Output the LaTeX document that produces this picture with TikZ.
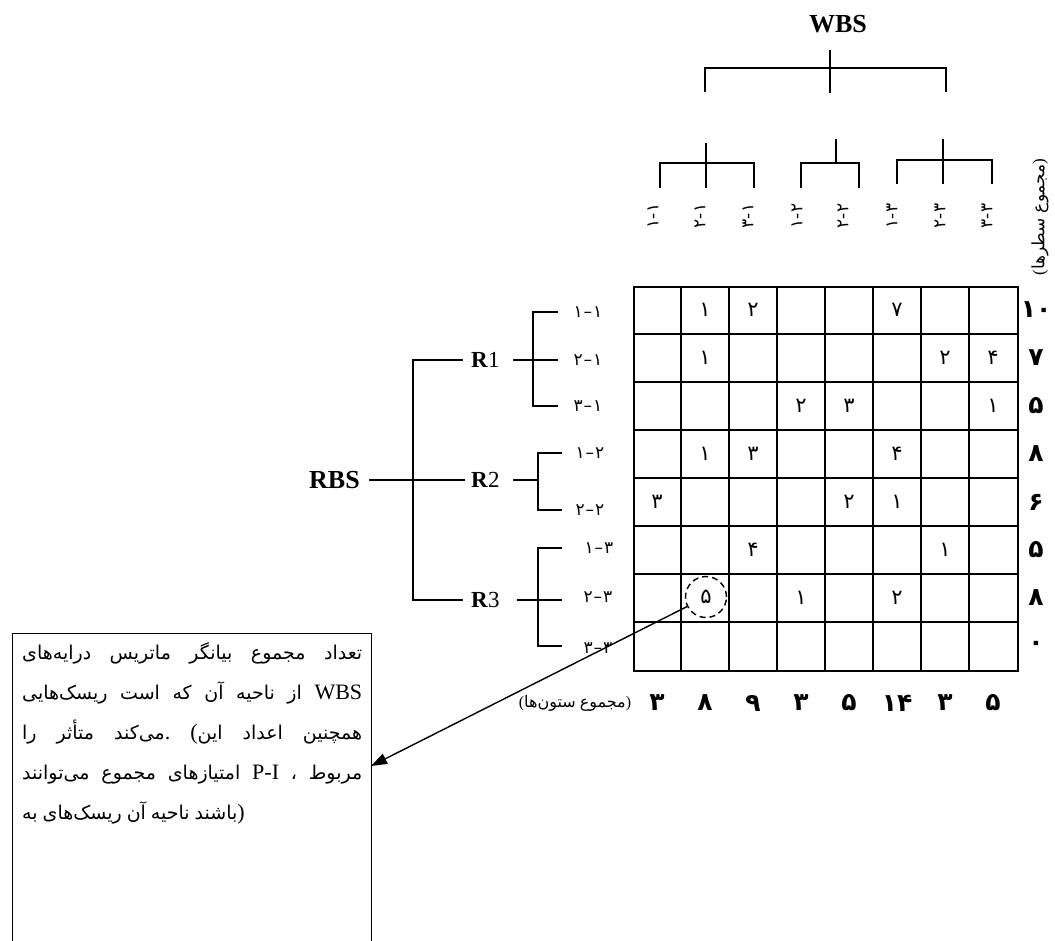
\documentclass[tikz,border=0pt]{standalone}
\usepackage{fontspec}
\setmainfont{Liberation Serif}
\newfontfamily\fa[Script=Arabic]{DejaVu Sans}
\TeXXeTstate=1
\usetikzlibrary{arrows.meta}
\newcommand\pd[2]{\hbox{#1}\hbox{-}\hbox{#2}}
\newcommand\pr[2]{\hbox{#1}\kern1pt\hbox{–}\kern1pt\hbox{#2}}
\newcommand\lat[1]{{\rmfamily\fontsize{22}{22}\selectfont #1}}
\newcommand\wrd[1]{\hbox{#1}}
\begin{document}
\begin{tikzpicture}[x=1pt,y=-1pt,
  tree/.style={line width=1.8pt},
  gridline/.style={line width=1.8pt},
  cellnum/.style={font=\fa\fontsize{21}{21}\selectfont, inner sep=0pt},
  sumnum/.style={font=\fa\bfseries\fontsize{25}{25}\selectfont, inner sep=0pt},
  lab/.style={font=\fa\fontsize{17}{17}\selectfont, inner sep=0pt},
  head/.style={font=\bfseries\fontsize{26}{26}\selectfont, inner sep=0pt},
  rnode/.style={font=\fontsize{23}{23}\selectfont, inner sep=0pt, anchor=west},
  boxline/.style={font=\fa\fontsize{19}{19}\selectfont, inner sep=0pt, anchor=base west},
]
\useasboundingbox (0,0) rectangle (1055,941);
\clip (0,0) rectangle (1055,941);

% ---------- WBS tree ----------
\node[head] (wbs) at (838,24) {WBS};
\draw[tree] (705,92) -- (705,68) -- (946,68) -- (946,92);
\draw[tree] (830,50) -- (830,93);
\draw[tree] (660,188) -- (660,163) -- (754,163) -- (754,188);
\draw[tree] (706,143) -- (706,188);
\draw[tree] (801,188) -- (801,163) -- (859,163) -- (859,188);
\draw[tree] (836,139) -- (836,163);
\draw[tree] (897,184) -- (897,160) -- (992,160) -- (992,184);
\draw[tree] (943,139) -- (943,184);

% column labels
\node[lab,rotate=90] (cl1) at (653,216) {\pd{۱}{۱}};
\node[lab,rotate=90] (cl2) at (700,216) {\pd{۲}{۱}};
\node[lab,rotate=90] (cl3) at (748,216) {\pd{۳}{۱}};
\node[lab,rotate=90] (cl4) at (797,216) {\pd{۱}{۲}};
\node[lab,rotate=90] (cl5) at (843,216) {\pd{۲}{۲}};
\node[lab,rotate=90] (cl6) at (892,216) {\pd{۱}{۳}};
\node[lab,rotate=90] (cl7) at (940,216) {\pd{۲}{۳}};
\node[lab,rotate=90] (cl8) at (987,216) {\pd{۳}{۳}};
\node[lab,rotate=90] (rowsumlab) at (1040,217)
  {\wrd{\lat{\fontsize{17}{17}\selectfont(}}\wrd{سطرها}\hskip 5pt\wrd{مجموع}\wrd{\lat{\fontsize{17}{17}\selectfont)}}};

% ---------- matrix ----------
\node[draw, gridline, anchor=north west, minimum width=384pt, minimum height=384pt, inner sep=0pt] (mat) at (633,286) {};
\foreach \i in {1,...,7} {
  \draw[gridline] (633+48*\i,286) -- (633+48*\i,670);
  \draw[gridline] (633,286+48*\i) -- (1017,286+48*\i);
}
\foreach \r/\c/\v in {1/2/۱,1/3/۲,1/6/۷,
                      2/2/۱,2/7/۲,2/8/۴,
                      3/4/۲,3/5/۳,3/8/۱,
                      4/2/۱,4/3/۳,4/6/۴,
                      5/1/۳,5/5/۲,5/6/۱,
                      6/3/۴,6/7/۱,
                      7/4/۱,7/6/۲}
  \node[cellnum] (c\r\c) at (633+48*\c-24,286+48*\r-24) {\v};
\node[cellnum, circle, draw, dashed, dash pattern=on 6pt off 4pt, line width=1.4pt, minimum size=41pt] (circ) at (706,597) {۵};

% row sums
\foreach \r/\v in {1/۱۰,2/۷,3/۵,4/۸,5/۶,6/۵,7/۸,8/۰}
  \node[sumnum] (rs\r) at (1036,286+48*\r-24) {\v};
% column sums
\foreach \c/\v in {1/۳,2/۸,3/۹,4/۳,5/۵,6/۱۴,7/۳,8/۵}
  \node[sumnum] (cs\c) at (633+48*\c-24,703) {\v};
\node[font=\fa\fontsize{16}{16}\selectfont, inner sep=0pt] (colsumlab) at (575,703)
  {\wrd{\lat{\fontsize{16}{16}\selectfont(}}\wrd{ستون^^^^200cها}\hskip 4pt\wrd{مجموع}\wrd{\lat{\fontsize{16}{16}\selectfont)}}};

% ---------- RBS tree ----------
\node[head, anchor=east] (rbs) at (360,480) {RBS};
\draw[tree] (rbs.east) ++(9,0) -- (465,480);
\draw[tree] (463,360) -- (413,360) -- (413,600) -- (463,600);
\node[rnode] (r1) at (471,360) {\textbf{R}1};
\node[rnode] (r2) at (471,480) {\textbf{R}2};
\node[rnode] (r3) at (471,600) {\textbf{R}3};
\draw[tree] (513,360) -- (558,360);
\draw[tree] (558,312) -- (533,312) -- (533,406) -- (558,406);
\draw[tree] (513,480) -- (538,480);
\draw[tree] (562,453) -- (538,453) -- (538,510) -- (562,510);
\draw[tree] (517,600) -- (562,600);
\draw[tree] (562,548) -- (538,548) -- (538,646) -- (562,646);

% row labels
\node[lab] (rl1) at (588,312) {\pr{۱}{۱}};
\node[lab] (rl2) at (588,360) {\pr{۲}{۱}};
\node[lab] (rl3) at (588,406) {\pr{۳}{۱}};
\node[lab] (rl4) at (590,453) {\pr{۱}{۲}};
\node[lab] (rl5) at (590,510) {\pr{۲}{۲}};
\node[lab] (rl6) at (599,548) {\pr{۱}{۳}};
\node[lab] (rl7) at (598,597) {\pr{۲}{۳}};
\node[lab] (rl8) at (598,648) {\pr{۳}{۳}};

% ---------- text box (words laid out left to right, as printed) ----------
\node[draw, line width=1.3pt, anchor=north west, minimum width=359pt, minimum height=340pt, inner sep=0pt] (box) at (12,633) {};
\node[boxline] (t1) at (22,659) {\hbox to 340pt{\wrd{درایه^^^^200cهای}\hfil\wrd{ماتریس}\hfil\wrd{بیانگر}\hfil\wrd{مجموع}\hfil\wrd{تعداد}}};
\node[boxline] (t2) at (22,699) {\hbox to 340pt{\wrd{ریسک^^^^200cهایی}\hfil\wrd{است}\hfil\wrd{که}\hfil\wrd{آن}\hfil\wrd{ناحیه}\hfil\wrd{از}\hfil\wrd{\lat{WBS}}}};
\node[boxline] (t3) at (22,739) {\hbox to 340pt{\wrd{را}\hfil\wrd{متأثر}\hfil\wrd{می^^^^200cکند}\wrd{\lat{.}}\hfil\wrd{\lat{(}}\wrd{این}\hfil\wrd{اعداد}\hfil\wrd{همچنین}}};
\node[boxline] (t4) at (22,779) {\hbox to 340pt{\wrd{می^^^^200cتوانند}\hfil\wrd{مجموع}\hfil\wrd{امتیازهای}\hfil\wrd{\lat{P-I}}\hfil\wrd{،}\hfil\wrd{مربوط}}};
\node[boxline] (t5) at (22,819) {\wrd{به}\hskip 5pt\wrd{ریسک^^^^200cهای}\hskip 5pt\wrd{آن}\hskip 5pt\wrd{ناحیه}\hskip 5pt\wrd{باشند}\wrd{\lat{)}}};

% arrow
\coordinate (tip) at (371,766);
\draw[line width=1.4pt, -{Triangle[length=16pt,width=11pt]}] (circ) -- (tip);
\end{tikzpicture}
\end{document}
